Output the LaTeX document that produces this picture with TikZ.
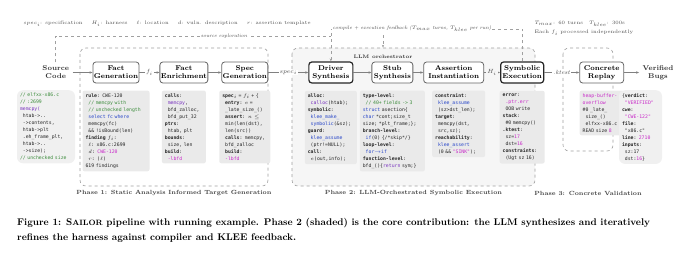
\documentclass[tikz,border=0pt]{standalone}
\usepackage{fontspec}
\usepackage{amsmath}
\usepackage{amssymb}
\usepackage{tikz}
\usetikzlibrary{arrows.meta, positioning, backgrounds}

\newfontfamily\codefont{DejaVu Sans Mono}

\definecolor{cmtgreen}{RGB}{60,140,60}
\definecolor{kwblue}{RGB}{40,70,200}
\definecolor{fnpurple}{RGB}{120,50,190}
\definecolor{hotpink}{RGB}{200,40,200}
\definecolor{codegray}{RGB}{234,234,234}
\definecolor{softgray}{RGB}{240,240,240}
\definecolor{shadegray}{RGB}{246,246,246}
\definecolor{linegray}{RGB}{160,160,160}

\newcommand{\cmt}[1]{\textcolor{cmtgreen}{#1}}
\newcommand{\kwd}[1]{\textcolor{kwblue}{#1}}
\newcommand{\fnc}[1]{\textcolor{fnpurple}{#1}}
\newcommand{\hot}[1]{\textcolor{hotpink}{#1}}
\newcommand{\fld}[1]{\textbf{#1}}
\newcommand{\ind}{\hspace*{0.6em}}

\begin{document}
\begin{tikzpicture}[
    x=1pt, y=-1pt,
    % Styles
    mainbox/.style={
        rectangle,
        rounded corners=3pt,
        draw=black!60,
        line width=0.8pt,
        fill=white,
        minimum width=44pt,
        minimum height=21pt,
        inner sep=1pt,
        align=center,
        font=\bfseries\fontsize{7}{8}\selectfont
    },
    corebox/.style={
        mainbox,
        draw=black!85,
        line width=1.2pt
    },
    endtext/.style={
        align=center,
        text=black!80,
        font=\bfseries\fontsize{7}{8}\selectfont
    },
    codebox/.style={
        rectangle,
        rounded corners=2pt,
        fill=codegray,
        inner sep=3pt,
        align=left,
        anchor=north,
        text=black!85,
        font=\codefont\fontsize{4.8}{7}\selectfont
    },
    softbox/.style={
        codebox,
        rounded corners=6pt,
        fill=softgray
    },
    phasebox/.style={
        draw=linegray,
        dashed,
        rounded corners=6pt,
        line width=0.6pt
    },
    phasetext/.style={
        text=black!75,
        font=\bfseries\fontsize{6}{7}\selectfont
    },
    note/.style={
        text=black!70,
        font=\fontsize{5}{9}\selectfont
    },
    edgelab/.style={
        fill=white,
        inner sep=1pt,
        text=black!70,
        font=\fontsize{6}{7}\selectfont
    },
    arrow/.style={
        -{Stealth[length=3pt, width=2.4pt]},
        draw=black!50,
        line width=0.6pt
    },
    fbline/.style={
        draw=linegray,
        dashed,
        line width=0.6pt
    }
]
\useasboundingbox (0,0) rectangle (680,259);

% Pipeline boxes
\node[mainbox] (factgen) at (116,72.5) {Fact\\Generation};
\node[endtext, left=20pt of factgen] (src) {Source\\Code};
\node[mainbox, minimum width=45pt, right=20pt of factgen] (enrich) {Fact\\Enrichment};
\node[mainbox, right=13pt of enrich] (specgen) {Spec\\Generation};
\node[corebox, right=40pt of specgen] (driver) {Driver\\Synthesis};
\node[mainbox, minimum width=41pt, right=18pt of driver] (stub) {Stub\\Synthesis};
\node[mainbox, minimum width=60pt, right=10pt of stub] (assert) {Assertion\\Instantiation};
\node[corebox, minimum width=43pt, right=16pt of assert] (symb) {Symbolic\\Execution};
\node[mainbox, right=35pt of symb] (replay) {Concrete\\Replay};
\node[endtext, right=15pt of replay] (bugs) {Verified\\Bugs};

% Phase frames
\begin{scope}[on background layer]
\draw[phasebox] (80,48) rectangle (268,186);
\draw[phasebox, fill=shadegray] (292,48) rectangle (535,186);
\draw[phasebox] (563,48) rectangle (613,151);
\end{scope}

\node[phasetext] (phase1) at (174,193) {Phase 1: Static Analysis Informed Target Generation};
\node[phasetext] (phase2) at (413.5,193) {Phase 2: LLM-Orchestrated Symbolic Execution};
\node[phasetext] (phase3) at (588,193) {Phase 3: Concrete Validation};

\node[text=black!80, font=\bfseries\fontsize{5}{6}\selectfont] (orch) at (383,57) {LLM orchestrator};

% Running example
\node[softbox, text width=52pt] (srccode) at (46,90) {
    \cmt{// elfxx-x86.c}\\
    \cmt{// :2699}\\
    \fnc{memcpy(}\\
    \ind htab->..\\
    \ind ->contents,\\
    \ind htab->plt\\
    \ind .eh\_frame\_plt,\\
    \ind htab->..\\
    \ind ->size);\\
    \cmt{// unchecked size}
};
\node[codebox, text width=61pt, below=7pt of factgen] (factcode) {
    \fld{rule}: CWE-120\\
    \ind\cmt{// memcpy with}\\
    \ind\cmt{// unchecked length}\\
    \ind\kwd{select fc where}\\
    \ind memcpy(fc)\\
    \ind\&\& !isBound(len)\\
    \fld{finding} $f_i$:\\
    \ind$\ell$: x86.c:2699\\
    \ind$d$: \hot{CWE-120}\\
    \ind$r$: ($\ell$)\\
    619 findings
};
\node[codebox, text width=38pt, below=7pt of enrich] (enrichcode) {
    \fld{calls}:\\
    \ind\fnc{memcpy},\\
    \ind bfd\_zalloc,\\
    \ind bfd\_put\_32\\
    \fld{ptrs}:\\
    \ind htab, plt\\
    \fld{bounds}:\\
    \ind size, len\\
    \fld{build}:\\
    \ind\hot{-lbfd}
};
\node[codebox, text width=45pt, below=7pt of specgen] (speccode) {
    \fld{spec}$_i$ = $f_i$ + \{\\
    \ind\fld{entry}: $e$ =\\
    \ind\_late\_size\_()\\
    \ind\fld{assert}: $n\leq$\\
    \ind min(len(dst),\\
    \ind len(src))\\
    \ind\fld{calls}: memcpy,\\
    \ind bfd\_zalloc\\
    \ind\fld{build}:\\
    \ind\hot{-lbfd}
};
\node[codebox, text width=46pt, below=7pt of driver] (drivercode) {
    \fld{alloc}:\\
    \ind\fnc{calloc}(htab);\\
    \fld{symbolic}:\\
    \ind\kwd{klee\_make\_}\\
    \ind\kwd{symbolic}(\&sz);\\
    \fld{guard}:\\
    \ind\kwd{klee\_assume}\\
    \ind(ptr!=NULL);\\
    \fld{call}:\\
    \ind$e$(out,info);
};
\node[codebox, text width=59pt, below=7pt of stub] (stubcode) {
    \fld{type-level}:\\
    \ind\cmt{// 40+ fields -> 3}\\
    \kwd{struct} asection\{\\
    \kwd{char} *cont;size\_t\\
    size; *plt\_frame;\};\\
    \fld{branch-level}:\\
    \ind\kwd{if}(0) \{/*skip*/\}\\
    \fld{loop-level}:\\
    \ind\kwd{for$\to$if}\\
    \fld{function-level}:\\
    bfd\_()\{\fnc{return} sym;\}
};
\node[codebox, text width=47pt, below=7pt of assert, xshift=5pt] (assertcode) {
    \fld{constraint}:\\
    \ind\kwd{klee\_assume}\\
    \ind(sz>dst\_len);\\
    \fld{target}:\\
    \ind memcpy(dst,\\
    \ind src,sz);\\
    \fld{reachability}:\\
    \ind\kwd{klee\_assert}\\
    \ind(0 \&\& \hot{"SINK"});
};
\node[codebox, text width=39pt, below=7pt of symb] (symbcode) {
    \fld{error}:\\
    \ind\hot{.ptr.err}\\
    \ind OOB write\\
    \fld{stack}:\\
    \ind\#0 memcpy()\\
    \fld{.ktest}:\\
    \ind sz=\hot{17}\\
    \ind dst=\hot{16}\\
    \fld{constraints}:\\
    \ind(Ugt sz 16)
};
\node[codebox, text width=38pt, below=7pt of replay] (replaycode) {
    \hot{heap-buffer-}\\
    \hot{overflow}\\
    \#0 \_late\_\\
    \ind size\_()\\
    \ind elfxx-x86.c\\
    READ size \hot{8}
};
\node[softbox, text width=37pt] (bugcode) at (640.5,90) {
    \{\fld{verdict}:\\
    \ind\hot{"VERIFIED"}\\
    \fld{cwe}:\\
    \ind\hot{"CWE-122"}\\
    \fld{file}:\\
    \ind"x86.c"\\
    \fld{line}: \hot{2710}\\
    \fld{inputs}:\\
    \ind sz:17\\
    \ind dst:\hot{16}\}
};

% Main flow
\draw[arrow] (src) -- (factgen);
\draw[arrow] (factgen) -- node[edgelab] {$f_i$} (enrich);
\draw[arrow] (enrich) -- (specgen);
\draw[arrow] (specgen) -- node[edgelab] {$spec_i$} (driver);
\draw[arrow] (driver) -- (stub);
\draw[arrow] (stub) -- (assert);
\draw[arrow] (assert) -- node[edgelab, fill=shadegray] {$H_i$} (symb);
\draw[arrow] (symb) -- node[edgelab] {\textit{.ktest}} (replay);
\draw[arrow] (replay) -- (bugs);

% Feedback and exploration loops
\coordinate (fbtop) at (0,29);
\coordinate (srctop) at (0,36);
\draw[fbline] (src.north) |- (driver.north |- srctop);
\draw[fbline, -{Stealth[length=3pt, width=2.4pt]}] (symb.north) -- (symb.north |- fbtop) -| (driver.north);
\draw[fbline, -{Stealth[length=3pt, width=2.4pt]}] (orch.north |- fbtop) -- ([yshift=4pt]orch.north);
\node[edgelab, font=\itshape\fontsize{5}{6}\selectfont] (srclab) at (224,36) {source exploration};
\node[edgelab, font=\itshape\fontsize{5}{6}\selectfont] (fblab) at (412,29) {compile + execution feedback ($T_{max}$ turns, $T_{klee}$ per run)};

% Notation and limits
\node[note] (legend) at (167,24) {$spec_i$: specification\hspace{9pt}$H_i$: harness\hspace{9pt}$\ell$: location\hspace{9pt}$d$: vuln. description\hspace{9pt}$r$: assertion template};
\node[note, anchor=west, align=left] (limits) at (531,28.5) {$T_{max}$: 60 turns\hspace{6pt}$T_{klee}$: 300s\\Each $f_i$ processed independently};

% Caption
\node[anchor=north west, align=left, inner sep=0pt, font=\bfseries\fontsize{9.7}{15}\selectfont] (caption) at (17,218) {Figure 1: S{\fontsize{7.7}{9}\selectfont AILOR} pipeline with running example. Phase 2 (shaded) is the core contribution: the LLM synthesizes and iteratively\\refines the harness against compiler and KLEE feedback.};

\end{tikzpicture}
\end{document}
